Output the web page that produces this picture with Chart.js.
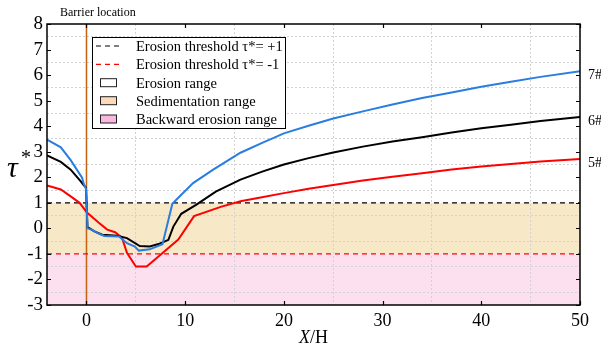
<!DOCTYPE html>
<html>
<head>
<meta charset="utf-8">
<script src="https://cdn.jsdelivr.net/npm/chart.js@4.4.1/dist/chart.umd.min.js"></script>
<style>
  html, body { margin: 0; padding: 0; background: #fff; }
  #wrap { position: relative; width: 601px; height: 349px; }
</style>
</head>
<body>
<div id="wrap"><canvas id="chart" width="601" height="349"></canvas></div>
<script>
// τ* along the channel, three cases
const x7 = [-4, -2.6, -1.6, -0.45, -0.25, -0.05, 0.1, 0.5, 1.2, 1.8, 3.3, 4.1, 4.9, 5.3, 6.4, 7.7, 8.7, 9.1, 10.8, 12.8, 15.6, 17.8, 20, 22.5, 25, 28, 31, 34, 37, 40, 43, 46, 50];
const tau7 = [3.47, 3.17, 2.67, 1.98, 1.72, 1.55, 0.0, -0.05, -0.2, -0.3, -0.32, -0.58, -0.71, -0.87, -0.82, -0.62, 0.96, 1.12, 1.77, 2.29, 2.96, 3.35, 3.72, 4.02, 4.3, 4.58, 4.85, 5.1, 5.32, 5.54, 5.74, 5.93, 6.15];

const x6 = [-4, -2.6, -1.6, -0.6, -0.27, -0.05, 0.1, 0.4, 0.8, 1.6, 3.1, 4.1, 5.4, 6.4, 7.4, 8.3, 8.8, 9.6, 11.1, 13.1, 15.6, 17.8, 20, 22.5, 25, 28, 31, 34, 37, 40, 43, 46, 50];
const tau6 = [2.86, 2.6, 2.3, 1.85, 1.68, 1.6, 0.05, -0.02, -0.12, -0.25, -0.29, -0.38, -0.69, -0.71, -0.6, -0.45, 0.07, 0.57, 0.92, 1.44, 1.91, 2.22, 2.5, 2.75, 2.97, 3.2, 3.4, 3.57, 3.75, 3.92, 4.06, 4.2, 4.36];

const x5 = [-4, -2.6, -1.6, -0.7, 0.05, 1.25, 2.1, 2.9, 3.6, 4.1, 5.0, 6.1, 7.5, 9.3, 10.9, 13.6, 15.6, 17.5, 20, 22.5, 25, 28, 31, 34, 37, 40, 43, 46, 50];
const tau5 = [1.68, 1.52, 1.25, 1.0, 0.62, 0.22, -0.05, -0.15, -0.37, -0.96, -1.49, -1.49, -1.03, -0.44, 0.48, 0.84, 1.06, 1.2, 1.38, 1.55, 1.7, 1.87, 2.02, 2.16, 2.3, 2.42, 2.52, 2.62, 2.72];

const caseLabels = ["7#", "6#", "5#"];
const xTicks = [0, 10, 20, 30, 40, 50];
const yTicks = [-3, -2, -1, 0, 1, 2, 3, 4, 5, 6, 7, 8];
const xRange = [-4, 50];
const yRange = [-3, 8];
const barrierX = 0;
const upperThreshold = 1;
const lowerThreshold = -1;

const legendLabels = ["Erosion threshold \u03c4*= +1", "Erosion threshold \u03c4*= -1", "Erosion range", "Sedimentation range", "Backward erosion range"];

const SERIF = '"Liberation Serif", "Times New Roman", serif';
const BLUE = '#2a7de0';
const RED = '#ff0000';
const ORANGE = '#c4620f';
const GRID = '#d2d2d2';

function pts(xs, ys) {
  return xs.map((x, i) => ({ x: x, y: ys[i] }));
}

const decor = {
  id: 'decor',
  beforeDraw(chart) {
    const { ctx, chartArea: a, scales: { y } } = chart;
    ctx.save();
    // background bands
    const y1 = y.getPixelForValue(upperThreshold);
    const ym1 = y.getPixelForValue(lowerThreshold);
    ctx.fillStyle = '#f7e8c8';
    ctx.fillRect(a.left, y1, a.right - a.left, ym1 - y1);
    ctx.fillStyle = '#fde0f0';
    ctx.fillRect(a.left, ym1, a.right - a.left, a.bottom - ym1);
    ctx.restore();
  },
  afterDraw(chart) {
    const { ctx, chartArea: a, scales: { x, y } } = chart;
    ctx.save();
    // frame
    ctx.strokeStyle = '#000';
    ctx.lineWidth = 1.5;
    ctx.strokeRect(a.left, a.top, a.right - a.left, a.bottom - a.top);

    // inner ticks
    ctx.lineWidth = 1.2;
    ctx.beginPath();
    yTicks.forEach(v => {
      const py = Math.round(y.getPixelForValue(v)) + 0.5;
      ctx.moveTo(a.left, py); ctx.lineTo(a.left + 4, py);
      ctx.moveTo(a.right, py); ctx.lineTo(a.right - 4, py);
    });
    xTicks.forEach(v => {
      const px = Math.round(x.getPixelForValue(v)) + 0.5;
      ctx.moveTo(px, a.bottom); ctx.lineTo(px, a.bottom - 4);
      ctx.moveTo(px, a.top); ctx.lineTo(px, a.top + 4);
    });
    ctx.stroke();

    // case labels at right end
    ctx.fillStyle = '#000';
    ctx.font = '14px ' + SERIF;
    ctx.textAlign = 'left';
    ctx.textBaseline = 'middle';
    const ends = [tau7[tau7.length - 1], tau6[tau6.length - 1], tau5[tau5.length - 1]];
    ends.forEach((v, i) => {
      ctx.fillText(caseLabels[i], a.right + 8, y.getPixelForValue(v) + 4);
    });

    // barrier text
    ctx.font = '12px ' + SERIF;
    ctx.fillText('Barrier location', 60, 13);

    // y title
    ctx.font = 'italic 30px ' + SERIF;
    ctx.textBaseline = 'alphabetic';
    ctx.fillText('\u03c4', 7, 177);
    ctx.font = '20px ' + SERIF;
    ctx.fillText('*', 21, 164);

    // x title
    ctx.font = 'italic 18px ' + SERIF;
    const wX = ctx.measureText('X').width;
    ctx.font = '18px ' + SERIF;
    const wH = ctx.measureText('/H').width;
    const sx = (a.left + a.right) / 2 - (wX + wH) / 2;
    ctx.font = 'italic 18px ' + SERIF;
    ctx.fillText('X', sx, 343);
    ctx.font = '18px ' + SERIF;
    ctx.fillText('/H', sx + wX, 343);

    // legend
    const L = 92.5, T = 37.5, W = 193, H = 91;
    ctx.fillStyle = '#fff';
    ctx.fillRect(L, T, W, H);
    ctx.strokeStyle = '#000';
    ctx.lineWidth = 1;
    ctx.strokeRect(L, T, W, H);
    const rows = [46, 64.3, 82.7, 100.7, 119];
    ctx.font = '14.5px ' + SERIF;
    ctx.textBaseline = 'middle';
    rows.forEach((ry, i) => {
      if (i < 2) {
        ctx.strokeStyle = i === 0 ? '#000' : RED;
        ctx.lineWidth = 1.2;
        ctx.setLineDash([5, 4]);
        ctx.beginPath();
        ctx.moveTo(96, ry); ctx.lineTo(120, ry);
        ctx.stroke();
        ctx.setLineDash([]);
      } else {
        ctx.fillStyle = ['#ffffff', '#fcd9b8', '#f9b8de'][i - 2];
        ctx.fillRect(100.5, ry - 4, 16, 8);
        ctx.strokeStyle = '#222';
        ctx.lineWidth = 1;
        ctx.strokeRect(100.5, ry - 4, 16, 8);
      }
      ctx.fillStyle = '#000';
      ctx.fillText(legendLabels[i], 136, ry + 1);
    });
    ctx.restore();
  }
};

new Chart(document.getElementById('chart'), {
  type: 'scatter',
  data: {
    datasets: [
      { label: '7#', data: pts(x7, tau7), borderColor: BLUE, borderWidth: 2 },
      { label: '6#', data: pts(x6, tau6), borderColor: '#000', borderWidth: 2 },
      { label: '5#', data: pts(x5, tau5), borderColor: RED, borderWidth: 2 },
      { label: 'up', data: pts(xRange, [upperThreshold, upperThreshold]), borderColor: '#000', borderWidth: 1.2, borderDash: [5, 4] },
      { label: 'low', data: pts(xRange, [lowerThreshold, lowerThreshold]), borderColor: RED, borderWidth: 1.2, borderDash: [5, 4] },
      { label: 'barrier', data: pts([barrierX, barrierX], yRange), borderColor: ORANGE, borderWidth: 1.5 }
    ].map(d => Object.assign({ showLine: true, pointRadius: 0, fill: false, tension: 0 }, d))
  },
  options: {
    responsive: false,
    animation: false,
    events: [],
    layout: { padding: { left: 0, right: 21, top: 24, bottom: 0 } },
    plugins: { legend: { display: false }, tooltip: { enabled: false } },
    scales: {
      x: {
        type: 'linear', min: xRange[0], max: xRange[1],
        afterBuildTicks: s => { s.ticks = [0, 5, 10, 15, 20, 25, 30, 35, 40, 45, 50].map(v => ({ value: v })); },
        afterFit: s => { s.height = 44; },
        ticks: {
          autoSkip: false, maxRotation: 0, padding: 5, color: '#000',
          font: { family: SERIF, size: 18 },
          callback: v => (xTicks.includes(v) ? String(v) : '')
        },
        grid: {
          drawTicks: false,
          color: c => (c.tick && c.tick.value % 10 === 5 ? GRID : 'rgba(0,0,0,0)'),
          lineWidth: 1
        },
        border: { display: false, dash: [2, 2] }
      },
      y: {
        type: 'linear', min: yRange[0], max: yRange[1],
        afterBuildTicks: s => {
          const t = [];
          for (let v = yRange[0]; v <= yRange[1]; v += 0.5) t.push({ value: v });
          s.ticks = t;
        },
        afterFit: s => { s.width = 47; },
        ticks: {
          autoSkip: false, padding: 4, color: '#000',
          font: { family: SERIF, size: 19 },
          callback: v => (yTicks.includes(v) ? String(v) : '')
        },
        grid: {
          drawTicks: false,
          color: c => (c.tick && Math.abs(c.tick.value % 1) === 0.5 ? GRID : 'rgba(0,0,0,0)'),
          lineWidth: 1
        },
        border: { display: false, dash: [2, 2] }
      }
    }
  },
  plugins: [decor]
});
</script>
</body>
</html>
